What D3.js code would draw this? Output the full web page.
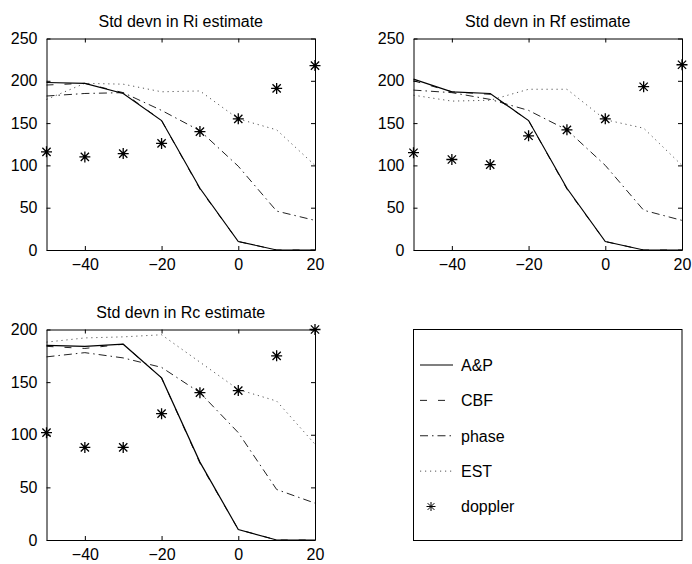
<!DOCTYPE html>
<html>
<head>
<meta charset="utf-8">
<script src="https://cdn.jsdelivr.net/npm/d3@7"></script>
<style>
  html, body { margin: 0; padding: 0; background: #fff; }
  svg { display: block; }
  text { font-family: "Liberation Sans", Arial, Helvetica, sans-serif; fill: #000; }
</style>
</head>
<body>
<svg id="chart" width="692" height="564"></svg>
<script>
// ---------- data ----------
const snr = [-50, -40, -30, -20, -10, 0, 10, 20];
const xTicks = [-40, -20, 0, 20];
const yTicks250 = [0, 50, 100, 150, 200, 250];
const yTicks200 = [0, 50, 100, 150, 200];
const seriesNames = ["A&P", "CBF", "phase", "EST", "doppler"];

// Std devn in Ri estimate
const riAP      = [198, 197, 185, 153, 73, 10, 0, 0];
const riCBF     = [195, 197, 186, 153, 72, 10, 0, 0];
const riPhase   = [182, 185, 186, 165, 141, 99, 46, 35];
const riEST     = [178, 197, 196, 187, 188, 155, 142, 100];
const riDoppler = [116, 110, 114, 126, 140, 155, 191, 218];

// Std devn in Rf estimate
const rfAP      = [202, 187, 185, 153, 73, 10, 0, 0];
const rfCBF     = [200, 187, 184, 153, 72, 10, 0, 0];
const rfPhase   = [189, 186, 178, 165, 142, 100, 47, 35];
const rfEST     = [183, 176, 177, 190, 190, 154, 144, 100];
const rfDoppler = [115, 107, 101, 135, 142, 155, 193, 219];

// Std devn in Rc estimate
const rcAP      = [185, 184, 186, 154, 74, 10, 0, 0];
const rcCBF     = [184, 182, 186, 154, 73, 10, 0, 0];
const rcPhase   = [174, 178, 173, 164, 140, 102, 48, 35];
const rcEST     = [188, 192, 193, 195, 169, 143, 132, 91];
const rcDoppler = [102, 88, 88, 120, 140, 142, 175, 200];

// ---------- styles ----------
const styles = {
  "A&P":   { dash: null,          color: "#000", w: 1.2 },
  "CBF":   { dash: "7,11",        color: "#222", w: 1 },
  "phase": { dash: "8,4,1.5,4",   color: "#222", w: 1 },
  "EST":   { dash: "1.2,3.8",     color: "#555", w: 1 }
};

const svg = d3.select("#chart");

function star(g, x, y, r, w) {
  const d = r * 0.75;
  const p = `M${x - r},${y}L${x + r},${y}M${x},${y - r}L${x},${y + r}` +
            `M${x - d},${y - d}L${x + d},${y + d}M${x - d},${y + d}L${x + d},${y - d}`;
  g.append("path").attr("d", p).attr("stroke", "#000").attr("stroke-width", w).attr("fill", "none");
}

function panel(opt) {
  const { x0, x1, y0, y1, title, yMax, yTicks, series } = opt;
  const g = svg.append("g");
  const x = d3.scaleLinear().domain([-50, 20]).range([x0, x1]);
  const y = d3.scaleLinear().domain([0, yMax]).range([y1, y0]);

  // lines
  const line = d3.line().x((d, i) => x(snr[i])).y(d => y(d));
  ["EST", "phase", "CBF", "A&P"].forEach(name => {
    const s = styles[name];
    g.append("path")
      .datum(series[name])
      .attr("d", line)
      .attr("fill", "none")
      .attr("stroke", s.color)
      .attr("stroke-width", s.w)
      .attr("stroke-dasharray", s.dash);
  });

  // axes with inward ticks on all sides
  const tl = 4;
  const axB = d3.axisBottom(x).tickValues(xTicks).tickSizeInner(-tl).tickSizeOuter(0).tickPadding(9);
  const axT = d3.axisTop(x).tickValues(xTicks).tickSizeInner(-tl).tickSizeOuter(0).tickFormat("");
  const axL = d3.axisLeft(y).tickValues(yTicks).tickSizeInner(-tl).tickSizeOuter(0).tickPadding(9);
  const axR = d3.axisRight(y).tickValues(yTicks).tickSizeInner(-tl).tickSizeOuter(0).tickFormat("");

  const styleAx = sel => {
    sel.select(".domain").attr("stroke", "#000").attr("stroke-width", 1);
    sel.selectAll(".tick line").attr("stroke", "#000");
    sel.selectAll("text").attr("font-size", 16).attr("font-family", '"Liberation Sans", Arial, sans-serif');
  };
  g.append("g").attr("transform", `translate(0,${y1})`).call(axB).call(styleAx);
  g.append("g").attr("transform", `translate(0,${y0})`).call(axT).call(styleAx);
  g.append("g").attr("transform", `translate(${x0},0)`).call(axL).call(styleAx);
  g.append("g").attr("transform", `translate(${x1},0)`).call(axR).call(styleAx);

  // doppler markers
  series["doppler"].forEach((v, i) => star(g, x(snr[i]), y(v), 5.5, 1.3));

  // title
  g.append("text")
    .attr("x", (x0 + x1) / 2).attr("y", y0 - 12)
    .attr("text-anchor", "middle").attr("font-size", 16)
    .text(title);
}

panel({ x0: 46.5, x1: 315, y0: 38.5, y1: 250, title: "Std devn in Ri estimate", yMax: 250, yTicks: yTicks250,
        series: { "A&P": riAP, "CBF": riCBF, "phase": riPhase, "EST": riEST, "doppler": riDoppler } });
panel({ x0: 413.5, x1: 682, y0: 38.5, y1: 250, title: "Std devn in Rf estimate", yMax: 250, yTicks: yTicks250,
        series: { "A&P": rfAP, "CBF": rfCBF, "phase": rfPhase, "EST": rfEST, "doppler": rfDoppler } });
panel({ x0: 46.5, x1: 315, y0: 329.5, y1: 540, title: "Std devn in Rc estimate", yMax: 200, yTicks: yTicks200,
        series: { "A&P": rcAP, "CBF": rcCBF, "phase": rcPhase, "EST": rcEST, "doppler": rcDoppler } });

// legend
const lg = svg.append("g");
lg.append("rect").attr("x", 413.5).attr("y", 329.5).attr("width", 268.5).attr("height", 211)
  .attr("fill", "#fff").attr("stroke", "#000").attr("stroke-width", 1);
const rowY = d3.scalePoint().domain(seriesNames).range([365, 506.5]);
seriesNames.forEach(name => {
  const yy = rowY(name);
  if (name === "doppler") {
    star(lg, 431, yy, 4.5, 1);
  } else {
    const s = styles[name];
    lg.append("line").attr("x1", 420).attr("x2", 453).attr("y1", yy).attr("y2", yy)
      .attr("stroke", s.color).attr("stroke-width", s.w).attr("stroke-dasharray", s.dash);
  }
  lg.append("text").attr("x", 461).attr("y", yy).attr("dy", "0.36em")
    .attr("font-size", 16).text(name);
});
</script>
</body>
</html>
